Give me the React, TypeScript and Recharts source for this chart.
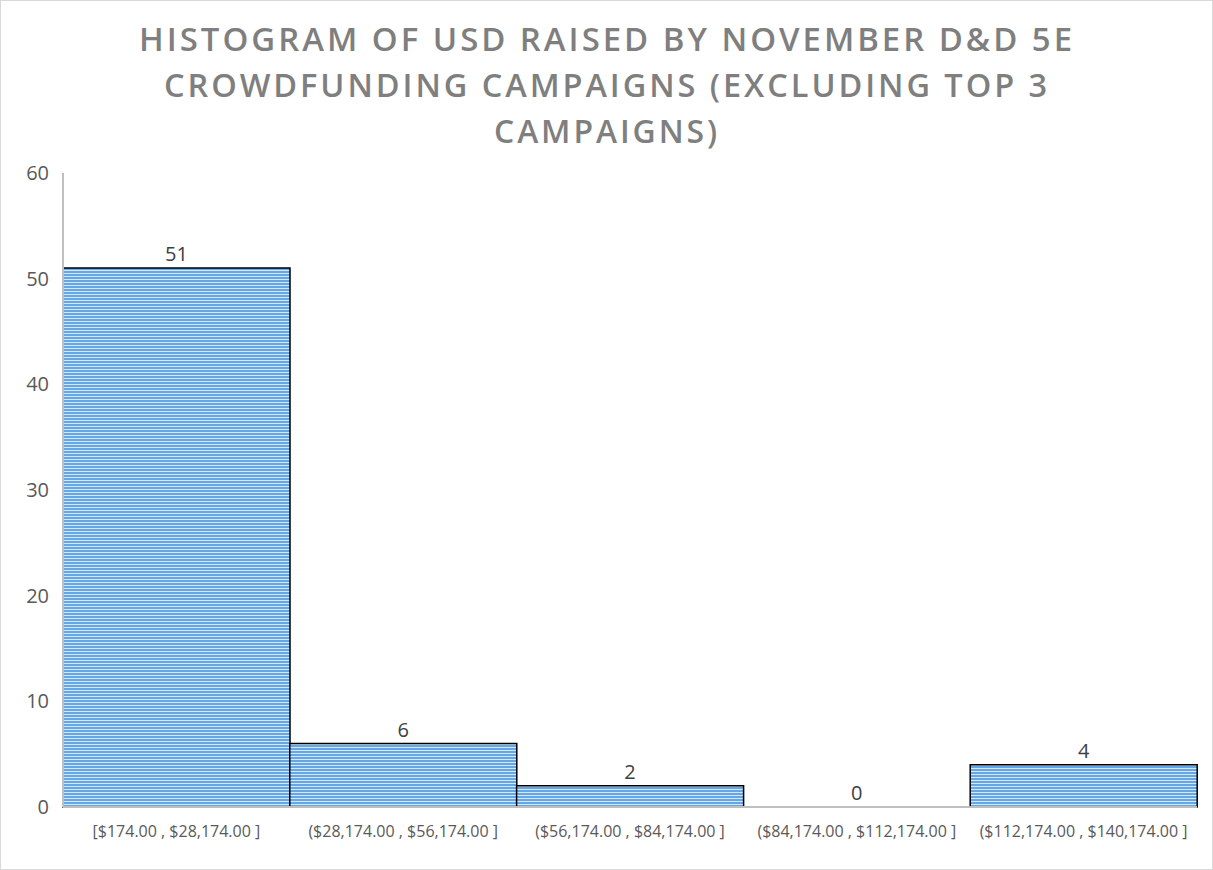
import { ComposedChart, Bar, Line, XAxis, YAxis, LabelList } from 'recharts';

const bins = [
  '[$174.00 , $28,174.00 ]',
  '($28,174.00 , $56,174.00 ]',
  '($56,174.00 , $84,174.00 ]',
  '($84,174.00 , $112,174.00 ]',
  '($112,174.00 , $140,174.00 ]',
];
const counts = [51, 6, 2, 0, 4];
const yTicks = [0, 10, 20, 30, 40, 50, 60];
const titleLines = [
  'HISTOGRAM OF USD RAISED BY NOVEMBER D&D 5E',
  'CROWDFUNDING CAMPAIGNS (EXCLUDING TOP 3',
  'CAMPAIGNS)',
];
// widths of each title line in the reference
const titleWidths = [936, 886, 226];

const data = bins.map((bin, i) => ({ bin, count: counts[i] }));

const font = '"Open Sans", Calibri, sans-serif';

export default function App() {
  return (
    <div
      style={{
        position: 'relative',
        width: 1211,
        height: 868,
        border: '1px solid #d9d9d9',
        background: '#fff',
        fontFamily: font,
      }}
    >
      <style>{'body{margin:0}'}</style>
      <svg width={0} height={0} style={{ position: 'absolute' }}>
        <defs>
          <pattern id="stripes" width={6} height={3} patternUnits="userSpaceOnUse">
            <rect width={6} height={3} fill="#d6e8f8" />
            <rect width={6} height={2} fill="#63a7e6" />
          </pattern>
        </defs>
      </svg>
      <svg width={1211} height={160} style={{ position: 'absolute', left: 0, top: 0 }}>
        {titleLines.map((line, i) => (
          <text
            key={i}
            x={606}
            y={50 + i * 46}
            textAnchor="middle"
            fontFamily={font}
            fontWeight={600}
            fontSize={33}
            letterSpacing={3}
            fill="#7f7f7f"
            textLength={titleWidths[i]}
            lengthAdjust="spacingAndGlyphs"
          >
            {line}
          </text>
        ))}
      </svg>
      <ComposedChart
        width={1211}
        height={868}
        data={data}
        margin={{ top: 172, right: 15, bottom: 0, left: 0 }}
        barCategoryGap={0}
        style={{ position: 'absolute', left: 0, top: 0 }}
      >
        <XAxis
          dataKey="bin"
          height={62}
          interval={0}
          tickLine={false}
          tickSize={0}
          tickMargin={19}
          axisLine={{ stroke: '#bfbfbf', strokeWidth: 2 }}
          tick={{ fill: '#595959', fontSize: 16, fontFamily: font }}
        />
        <YAxis
          domain={[0, 60]}
          ticks={yTicks}
          width={62}
          tickLine={false}
          tickSize={0}
          tickMargin={14}
          axisLine={{ stroke: '#bfbfbf', strokeWidth: 2 }}
          tick={{ fill: '#595959', fontSize: 20, fontFamily: font }}
        />
        <Bar
          dataKey="count"
          fill="url(#stripes)"
          stroke="#000"
          strokeWidth={1.5}
          isAnimationActive={false}
        />
        <Line
          dataKey="count"
          stroke="none"
          dot={false}
          activeDot={false}
          isAnimationActive={false}
        >
          <LabelList
            dataKey="count"
            position="top"
            offset={7}
            fill="#404040"
            fontSize={20}
            fontFamily={font}
          />
        </Line>
      </ComposedChart>
    </div>
  );
}
